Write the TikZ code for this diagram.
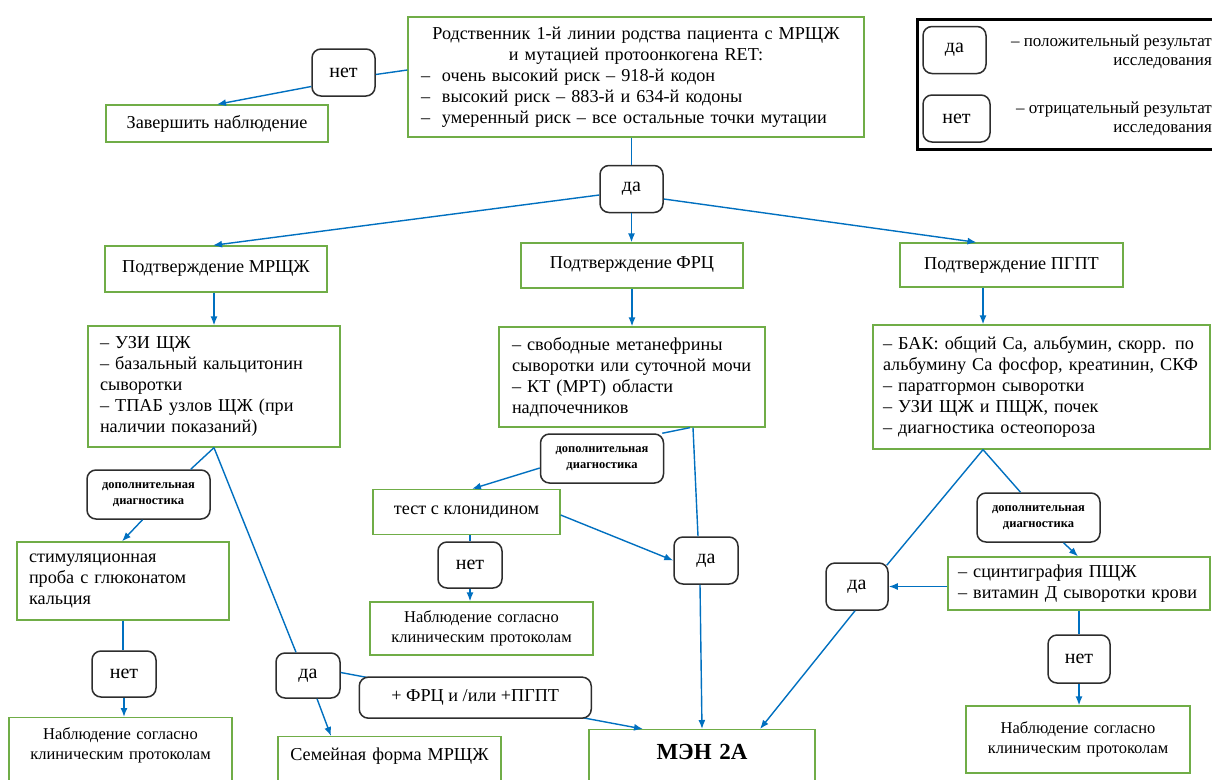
\documentclass[tikz,border=0pt]{standalone}
\usepackage{fontspec}
\setmainfont{Liberation Serif}
\usetikzlibrary{arrows.meta,calc}
\definecolor{gr}{RGB}{112,173,71}
\definecolor{bl}{RGB}{0,112,192}
\definecolor{dk}{RGB}{45,45,45}
\newcommand\fmain{\fontsize{18.2}{21}\selectfont}
\newcommand\frb{\fontsize{20}{22}\selectfont}
\newcommand\fnab{\fontsize{16.5}{20}\selectfont}
\newcommand\fdop{\fontsize{12.5}{16}\selectfont\bfseries}
\newcommand\fleg{\fontsize{17}{19}\selectfont}
\newcommand\dsh{\makebox[21pt][l]{–}}
\begin{document}
\begin{tikzpicture}[x=1pt,y=-1pt,
  gbox/.style={draw=gr, line width=1.3pt, rectangle, inner sep=0pt, font=\fmain, fill=white},
  rbox/.style={draw=dk, line width=1.5pt, rounded corners=9pt, inner sep=0pt,
     minimum width=63pt, minimum height=47pt, font=\frb, fill=white},
  dop/.style={draw=dk, line width=1.5pt, rounded corners=9pt, inner sep=0pt,
     minimum width=123pt, minimum height=49pt, font=\fdop, align=center, fill=white},
  conn/.style={draw=bl, line width=1.4pt},
  arr/.style={conn, -{Latex[length=9pt,width=7pt]}},
]
\useasboundingbox (0,0) rectangle (1212,779);
\fill[white] (0,0) rectangle (1212,779);

% legend
\draw[line width=3pt, black] (917,19) rectangle (1218,149);
\node[rbox] (lda) at (954.5,50) {да};
\node[rbox, minimum width=67pt] (lnet) at (956.5,118.5) {нет};
\node[font=\fleg, align=right, anchor=east, inner sep=0pt] (lt1) at (1212,52) {– положительный результат\\исследования};
\node[font=\fleg, align=right, anchor=east, inner sep=0pt] (lt2) at (1212,119) {– отрицательный результат\\исследования};

% top
\node[gbox, minimum width=456pt, minimum height=120pt, text width=430pt, align=left] (top) at (636,77)
 {\centering Родственник 1-й линии родства пациента с МРЩЖ\\ и мутацией протоонкогена RET:\par
  \raggedright\dsh очень высокий риск – 918-й кодон\\
  \dsh высокий риск – 883-й и 634-й кодоны\\
  \dsh умеренный риск – все остальные точки мутации};
\node[rbox] (net1) at (343.5,72.5) {нет};
\node[gbox, minimum width=222pt, minimum height=37pt] (zav) at (217,123.5) {Завершить наблюдение};
\node[rbox] (da1) at (631.5,189) {да};

% confirmations
\node[gbox, minimum width=222pt, minimum height=46pt] (c1) at (216,269) {\raisebox{4pt}{Подтверждение МРЩЖ}};
\node[gbox, minimum width=222pt, minimum height=45pt] (c2) at (632,265.5) {\raisebox{5pt}{Подтверждение ФРЦ}};
\node[gbox, minimum width=223pt, minimum height=44pt] (c3) at (1011.5,265) {\raisebox{2pt}{Подтверждение ПГПТ}};

% investigations
\node[gbox, minimum width=252pt, minimum height=121pt, text width=228pt, align=left] (uzi) at (214,386.5)
 {– УЗИ ЩЖ\\ – базальный кальцитонин\\ сыворотки\\ – ТПАБ узлов ЩЖ (при\\ наличии показаний)};
\node[gbox, minimum width=266pt, minimum height=100pt, text width=240pt, align=left] (met) at (632,377)
 {– свободные метанефрины\\ сыворотки или суточной мочи\\ – КТ (МРТ) области\\ надпочечников};
\node[gbox, minimum width=337pt, minimum height=124pt, text width=317pt, align=left] (bak) at (1041.5,387)
 {– БАК: общий Ca, альбумин, скорр. по\\ альбумину Ca фосфор, креатинин, СКФ\\ – паратгормон сыворотки\\ – УЗИ ЩЖ и ПЩЖ, почек\\ – диагностика остеопороза};

% left branch
\node[dop] (dop1) at (148.5,494.5) {дополнительная\\диагностика};
\node[gbox, minimum width=212pt, minimum height=78pt, text width=188pt, align=left] (stim) at (123,581)
 {стимуляционная\\ проба с глюконатом\\ кальция};
\node[rbox, minimum width=64pt, minimum height=46pt] (net2) at (124,674) {нет};
\node[gbox, anchor=north, minimum width=223pt, text width=215pt, align=center, font=\fnab,
      text height=22pt, text depth=47pt] (nab1) at (120.5,717) {Наблюдение согласно\\ клиническим протоколам};
\node[rbox, minimum width=64pt, minimum height=45pt] (da2) at (308,675.5) {да};
\node[gbox, anchor=north, minimum width=223pt, text width=215pt, align=center,
      text height=24pt, text depth=30pt] (sem) at (389.5,736) {Семейная форма МРЩЖ};
\node[gbox, anchor=north, minimum width=226pt, text width=220pt, align=center, font=\fontsize{23}{26}\selectfont\bfseries,
      text height=30pt, text depth=30pt] (men) at (702,729) {МЭН 2А};

% middle branch
\node[dop] (dop2) at (602,458.5) {дополнительная\\диагностика};
\node[gbox, minimum width=187pt, minimum height=45pt] (test) at (466.5,512) {\raisebox{3pt}{тест с клонидином}};
\node[rbox, minimum width=64pt, minimum height=46pt] (net3) at (470,565) {нет};
\node[gbox, minimum width=223pt, minimum height=53pt, text width=215pt, align=center, font=\fnab] (nab2) at (481.5,628.5)
 {Наблюдение согласно\\ клиническим протоколам};
\node[rbox, minimum width=64pt] (da3) at (706,560.5) {да};

% right branch
\node[dop] (dop3) at (1038.5,517.5) {дополнительная\\диагностика};
\node[gbox, minimum width=262pt, minimum height=53pt, text width=242pt, align=left] (sci) at (1079,583.5)
 {– сцинтиграфия ПЩЖ\\ – витамин Д сыворотки крови};
\node[rbox, minimum width=62pt, minimum height=47pt] (da4) at (857,586.5) {да};
\node[rbox, minimum width=62pt, minimum height=48pt] (net4) at (1079,659) {нет};
\node[gbox, minimum width=224pt, minimum height=67pt, text width=215pt, align=center, font=\fnab] (nab3) at (1078,739.5)
 {\raisebox{5pt}{\parbox{215pt}{\centering Наблюдение согласно\\ клиническим протоколам}}};

% connectors
\draw[conn] ([yshift=7pt]top.west) -- ([yshift=-2pt]net1.east);
\draw[arr] ([yshift=-14pt]net1.west) -- (zav.north);
\draw[conn] (top.south -| da1.north) -- (da1.north);
\draw[arr] ([yshift=-6pt]da1.west) -- ([xshift=-3pt]c1.north);
\draw[arr] (da1.south) -- (da1.south |- c2.north);
\draw[arr] ([yshift=-10pt]da1.east) -- ([xshift=-35pt]c3.north);
\draw[arr] ([xshift=-2pt]c1.south) -- ([xshift=-2pt]c1.south |- uzi.north);
\draw[arr] (c2.south) -- (c2.south |- met.north);
\draw[arr] ([xshift=-28.5pt]c3.south) -- ([xshift=-28.5pt]c3.south |- bak.north);

\draw[conn] (uzi.south) -- ([xshift=-20pt]dop1.north east);
\draw[arr] ([xshift=-6pt]dop1.south) -- ([xshift=-1pt]stim.north);
\draw[conn] (uzi.south) -- ([xshift=-12pt]da2.north);
\draw[conn] (stim.south) -- (stim.south |- net2.north);
\draw[arr] (net2.south) -- (net2.south |- nab1.north);
\draw[arr] ([xshift=9pt]da2.south) -- ([xshift=-58.5pt]sem.north);
\draw[arr] ([yshift=3pt]da2.east) -- node[pos=0.445, rbox, font=\fmain, minimum width=232pt, minimum height=41pt] (plus) {+ ФРЦ и /или +ПГПТ} ([xshift=-59pt]men.north);

\draw[conn] ([xshift=58pt]met.south) -- ([xshift=-2pt]dop2.north east);
\draw[arr] ([yshift=-9.5pt]dop2.west) -- ([xshift=5.5pt]test.north);
\draw[conn] ([xshift=61pt]met.south) -- ([xshift=-8pt]da3.north);
\draw[arr] ([yshift=-3pt]test.east) -- (da3.west);
\draw[conn] (net3.north |- test.south) -- (net3.north);
\draw[arr] (net3.south) -- (net3.south |- nab2.north);
\draw[arr] ([xshift=-6pt]da3.south) -- (men.north);

\draw[conn] ([xshift=-58.5pt]bak.south) -- ([xshift=-2pt,yshift=-3pt]da4.north east);
\draw[conn] ([xshift=-58.5pt]bak.south) -- ([xshift=-18pt]dop3.north);
\draw[arr] ([xshift=25pt]dop3.south) -- ([xshift=-1pt]sci.north);
\draw[arr] (sci.west |- da4.east) -- (da4.east);
\draw[arr] ([xshift=-2pt]da4.south) -- ([xshift=58pt]men.north);
\draw[conn] (sci.south) -- (sci.south |- net4.north);
\draw[arr] (net4.south) -- (net4.south |- nab3.north);
\end{tikzpicture}
\end{document}
